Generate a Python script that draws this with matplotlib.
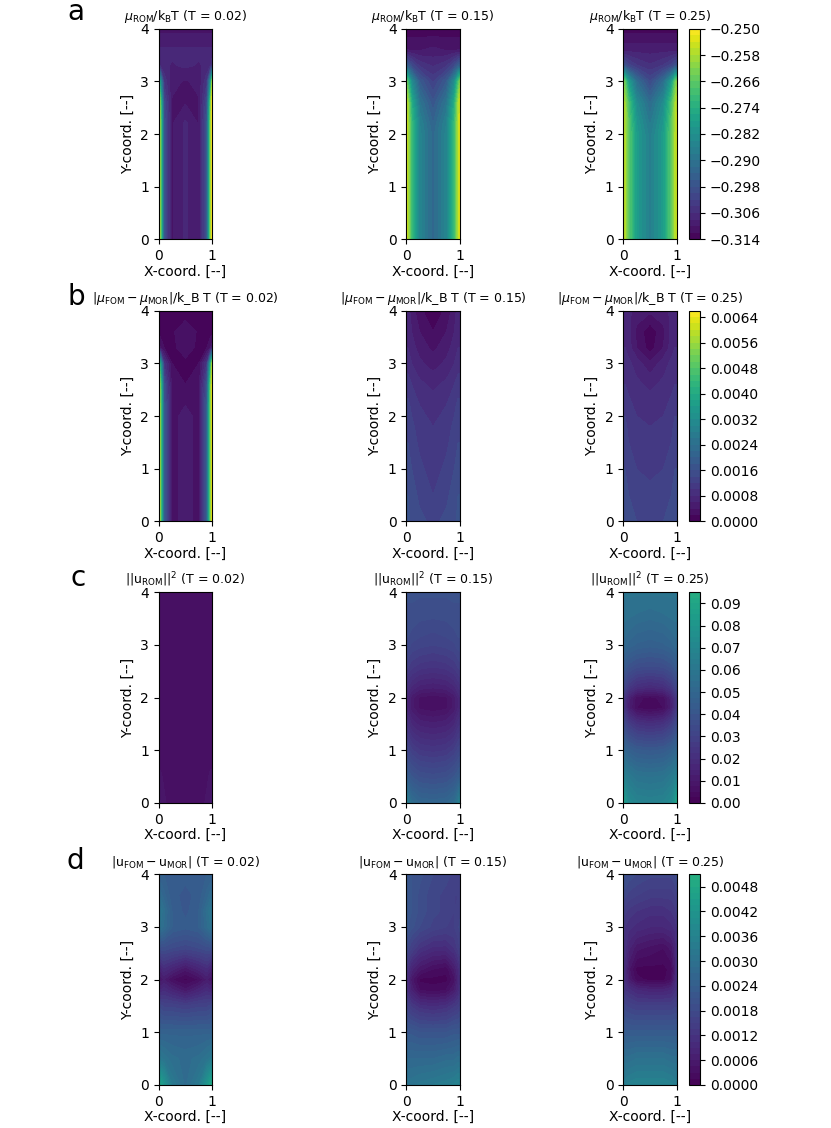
import numpy as np
import matplotlib
matplotlib.use('Agg')
import matplotlib.pyplot as plt
from matplotlib.ticker import FuncFormatter

# ---------------- data ----------------
x_coord = [0.0, 0.03, 0.1, 0.25, 0.5, 0.75, 0.9, 0.97, 1.0]
y_coord = [0.0, 0.5, 1.0, 1.5, 1.8, 2.0, 2.2, 2.6, 3.0, 3.3, 3.6, 4.0]
temps = ['0.02', '0.15', '0.25']

# row a: mu_ROM / k_B T
mu_rom_T002 = [
    [-0.2500, -0.2628, -0.2980, -0.3102, -0.3076, -0.3102, -0.2980, -0.2628, -0.2500],
    [-0.2500, -0.2628, -0.2980, -0.3102, -0.3076, -0.3102, -0.2980, -0.2628, -0.2500],
    [-0.2500, -0.2628, -0.2980, -0.3102, -0.3076, -0.3102, -0.2980, -0.2628, -0.2500],
    [-0.2500, -0.2628, -0.2980, -0.3102, -0.3076, -0.3102, -0.2980, -0.2628, -0.2500],
    [-0.2500, -0.2628, -0.2980, -0.3102, -0.3076, -0.3102, -0.2980, -0.2628, -0.2500],
    [-0.2500, -0.2628, -0.2980, -0.3102, -0.3076, -0.3102, -0.2980, -0.2628, -0.2500],
    [-0.2500, -0.2628, -0.2980, -0.3102, -0.3076, -0.3102, -0.2980, -0.2628, -0.2500],
    [-0.2500, -0.2660, -0.3000, -0.3102, -0.3102, -0.3102, -0.3000, -0.2660, -0.2500],
    [-0.2596, -0.2820, -0.3044, -0.3095, -0.3102, -0.3095, -0.3044, -0.2820, -0.2596],
    [-0.3044, -0.3063, -0.3076, -0.3082, -0.3076, -0.3082, -0.3076, -0.3063, -0.3044],
    [-0.3076, -0.3076, -0.3076, -0.3076, -0.3076, -0.3076, -0.3076, -0.3076, -0.3076],
    [-0.3108, -0.3108, -0.3108, -0.3108, -0.3108, -0.3108, -0.3108, -0.3108, -0.3108],
]
mu_rom_T015 = [
    [-0.2532, -0.2577, -0.2705, -0.2852, -0.2929, -0.2852, -0.2705, -0.2577, -0.2532],
    [-0.2532, -0.2577, -0.2705, -0.2852, -0.2929, -0.2852, -0.2705, -0.2577, -0.2532],
    [-0.2532, -0.2577, -0.2705, -0.2852, -0.2929, -0.2852, -0.2705, -0.2577, -0.2532],
    [-0.2532, -0.2577, -0.2705, -0.2852, -0.2929, -0.2852, -0.2705, -0.2577, -0.2532],
    [-0.2532, -0.2577, -0.2705, -0.2852, -0.2929, -0.2852, -0.2705, -0.2577, -0.2532],
    [-0.2532, -0.2577, -0.2705, -0.2852, -0.2929, -0.2852, -0.2705, -0.2577, -0.2532],
    [-0.2535, -0.2580, -0.2710, -0.2860, -0.2940, -0.2860, -0.2710, -0.2580, -0.2535],
    [-0.2545, -0.2596, -0.2743, -0.2897, -0.2974, -0.2897, -0.2743, -0.2596, -0.2545],
    [-0.2628, -0.2692, -0.2833, -0.2961, -0.3025, -0.2961, -0.2833, -0.2692, -0.2628],
    [-0.2948, -0.2961, -0.3000, -0.3044, -0.3063, -0.3044, -0.3000, -0.2961, -0.2948],
    [-0.3102, -0.3102, -0.3102, -0.3102, -0.3095, -0.3102, -0.3102, -0.3102, -0.3102],
    [-0.3134, -0.3134, -0.3134, -0.3134, -0.3134, -0.3134, -0.3134, -0.3134, -0.3134],
]
mu_rom_T025 = [
    [-0.2551, -0.2577, -0.2660, -0.2788, -0.2871, -0.2788, -0.2660, -0.2577, -0.2551],
    [-0.2551, -0.2577, -0.2660, -0.2788, -0.2871, -0.2788, -0.2660, -0.2577, -0.2551],
    [-0.2551, -0.2577, -0.2660, -0.2788, -0.2871, -0.2788, -0.2660, -0.2577, -0.2551],
    [-0.2551, -0.2577, -0.2660, -0.2788, -0.2871, -0.2788, -0.2660, -0.2577, -0.2551],
    [-0.2551, -0.2577, -0.2660, -0.2788, -0.2871, -0.2788, -0.2660, -0.2577, -0.2551],
    [-0.2551, -0.2577, -0.2660, -0.2788, -0.2871, -0.2788, -0.2660, -0.2577, -0.2551],
    [-0.2555, -0.2582, -0.2668, -0.2800, -0.2885, -0.2800, -0.2668, -0.2582, -0.2555],
    [-0.2564, -0.2596, -0.2692, -0.2833, -0.2922, -0.2833, -0.2692, -0.2596, -0.2564],
    [-0.2615, -0.2660, -0.2788, -0.2916, -0.3000, -0.2916, -0.2788, -0.2660, -0.2615],
    [-0.2980, -0.2986, -0.3012, -0.3038, -0.3057, -0.3038, -0.3012, -0.2986, -0.2980],
    [-0.3089, -0.3089, -0.3089, -0.3089, -0.3089, -0.3089, -0.3089, -0.3089, -0.3089],
    [-0.3127, -0.3127, -0.3127, -0.3127, -0.3127, -0.3127, -0.3127, -0.3127, -0.3127],
]

# row b: |mu_FOM - mu_MOR| / k_B T   (values in units of 1e-4)
mu_err_T002 = [
    [64, 52, 18, 3, 5, 3, 18, 52, 64],
    [64, 52, 18, 3, 5, 3, 18, 52, 64],
    [64, 52, 18, 3, 5, 3, 18, 52, 64],
    [64, 52, 18, 3, 5, 3, 18, 52, 64],
    [64, 52, 18, 3, 5, 3, 18, 52, 64],
    [64, 52, 18, 3, 5, 3, 18, 52, 64],
    [64, 52, 18, 3, 4, 3, 18, 52, 64],
    [63, 50, 16, 3, 2, 3, 16, 50, 63],
    [58, 38, 10, 2, 1, 2, 10, 38, 58],
    [5, 4, 2, 1, 4, 1, 2, 4, 5],
    [1, 1, 1, 1.5, 4, 1.5, 1, 1, 1],
    [0.3, 0.3, 0.3, 0.3, 0.3, 0.3, 0.3, 0.3, 0.3],
]
mu_err_T015 = [
    [16.5, 16.5, 15.5, 14.5, 13.5, 14.5, 15.5, 16.5, 16.5],
    [16, 16, 15, 13.5, 12, 13.5, 15, 16, 16],
    [15, 15, 14, 12.5, 11, 12.5, 14, 15, 15],
    [14, 14, 13, 11.5, 10, 11.5, 13, 14, 14],
    [13.5, 13.5, 12.5, 11, 10, 11, 12.5, 13.5, 13.5],
    [13, 13, 12, 10.5, 9.5, 10.5, 12, 13, 13],
    [12.5, 12.5, 11.5, 10, 9, 10, 11.5, 12.5, 12.5],
    [11, 11, 10, 8.5, 7.5, 8.5, 10, 11, 11],
    [9, 9, 8, 6.5, 5, 6.5, 8, 9, 9],
    [8, 8, 7, 5, 3.5, 5, 7, 8, 8],
    [7, 7, 6, 4, 2, 4, 6, 7, 7],
    [7, 7, 5, 2.5, 0.5, 2.5, 5, 7, 7],
]
mu_err_T025 = [
    [15.5, 15.5, 14.5, 14, 13.5, 14, 14.5, 15.5, 15.5],
    [15, 15, 14, 13, 12.5, 13, 14, 15, 15],
    [14, 14, 13, 12, 11.5, 12, 13, 14, 14],
    [13, 13, 12, 11, 10.5, 11, 12, 13, 13],
    [12.5, 12.5, 11.5, 10.5, 10, 10.5, 11.5, 12.5, 12.5],
    [12, 12, 11, 10, 9.5, 10, 11, 12, 12],
    [11.5, 11.5, 10.5, 9.5, 9, 9.5, 10.5, 11.5, 11.5],
    [10, 10, 9.5, 8.5, 7.5, 8.5, 9.5, 10, 10],
    [9, 9, 8.5, 7, 4.5, 7, 8.5, 9, 9],
    [8, 8, 7, 4, 1, 4, 7, 8, 8],
    [7.5, 7.5, 6.5, 3.5, 0.5, 3.5, 6.5, 7.5, 7.5],
    [7, 7, 6.5, 5, 4.5, 5, 6.5, 7, 7],
]

# row c: ||u_ROM||^2
u2_rom_T002 = [
    [0.012, 0.010, 0.008, 0.006, 0.005, 0.006, 0.008, 0.010, 0.012],
    [0.008, 0.008, 0.007, 0.006, 0.006, 0.006, 0.007, 0.008, 0.008],
    [0.006, 0.006, 0.006, 0.006, 0.006, 0.006, 0.006, 0.006, 0.006],
    [0.006, 0.006, 0.006, 0.007, 0.007, 0.007, 0.006, 0.006, 0.006],
    [0.006, 0.006, 0.006, 0.007, 0.007, 0.007, 0.006, 0.006, 0.006],
    [0.006, 0.006, 0.006, 0.007, 0.007, 0.007, 0.006, 0.006, 0.006],
    [0.006, 0.006, 0.006, 0.007, 0.007, 0.007, 0.006, 0.006, 0.006],
    [0.006, 0.006, 0.006, 0.007, 0.007, 0.007, 0.006, 0.006, 0.006],
    [0.006, 0.006, 0.006, 0.006, 0.006, 0.006, 0.006, 0.006, 0.006],
    [0.006, 0.006, 0.006, 0.006, 0.006, 0.006, 0.006, 0.006, 0.006],
    [0.006, 0.006, 0.006, 0.006, 0.006, 0.006, 0.006, 0.006, 0.006],
    [0.005, 0.005, 0.005, 0.005, 0.005, 0.005, 0.005, 0.005, 0.005],
]
u2_rom_T015 = [
    [0.068, 0.062, 0.054, 0.050, 0.049, 0.050, 0.054, 0.062, 0.068],
    [0.044, 0.043, 0.040, 0.037, 0.036, 0.037, 0.040, 0.043, 0.044],
    [0.032, 0.031, 0.028, 0.025, 0.024, 0.025, 0.028, 0.031, 0.032],
    [0.022, 0.021, 0.017, 0.014, 0.013, 0.014, 0.017, 0.021, 0.022],
    [0.017, 0.015, 0.011, 0.007, 0.006, 0.007, 0.011, 0.015, 0.017],
    [0.017, 0.015, 0.011, 0.007, 0.006, 0.007, 0.011, 0.015, 0.017],
    [0.021, 0.020, 0.017, 0.014, 0.013, 0.014, 0.017, 0.020, 0.021],
    [0.029, 0.028, 0.026, 0.024, 0.023, 0.024, 0.026, 0.028, 0.029],
    [0.034, 0.034, 0.032, 0.031, 0.030, 0.031, 0.032, 0.034, 0.034],
    [0.036, 0.036, 0.035, 0.034, 0.033, 0.034, 0.035, 0.036, 0.036],
    [0.037, 0.037, 0.037, 0.036, 0.036, 0.036, 0.037, 0.037, 0.037],
    [0.038, 0.038, 0.038, 0.038, 0.038, 0.038, 0.038, 0.038, 0.038],
]
u2_rom_T025 = [
    [0.093, 0.082, 0.072, 0.068, 0.067, 0.068, 0.072, 0.082, 0.093],
    [0.066, 0.065, 0.062, 0.058, 0.057, 0.058, 0.062, 0.065, 0.066],
    [0.050, 0.049, 0.046, 0.043, 0.042, 0.043, 0.046, 0.049, 0.050],
    [0.034, 0.032, 0.027, 0.022, 0.020, 0.022, 0.027, 0.032, 0.034],
    [0.026, 0.022, 0.013, 0.005, 0.003, 0.005, 0.013, 0.022, 0.026],
    [0.026, 0.022, 0.014, 0.006, 0.004, 0.006, 0.014, 0.022, 0.026],
    [0.032, 0.030, 0.025, 0.020, 0.018, 0.020, 0.025, 0.030, 0.032],
    [0.043, 0.042, 0.039, 0.036, 0.035, 0.036, 0.039, 0.042, 0.043],
    [0.051, 0.051, 0.049, 0.047, 0.046, 0.047, 0.049, 0.051, 0.051],
    [0.054, 0.054, 0.053, 0.051, 0.050, 0.051, 0.053, 0.054, 0.054],
    [0.056, 0.056, 0.056, 0.055, 0.054, 0.055, 0.056, 0.056, 0.056],
    [0.058, 0.058, 0.058, 0.058, 0.058, 0.058, 0.058, 0.058, 0.058],
]

# row d: |u_FOM - u_MOR|   (values in units of 1e-4)
u_err_T002 = [
    [48, 46, 42, 33, 28, 33, 42, 47, 49],
    [33, 32, 31, 29, 28, 29, 31, 32, 33],
    [25, 25, 25, 25, 25, 25, 25, 25, 25],
    [18, 17, 16, 16, 15, 16, 16, 17, 18],
    [7, 9, 10, 8, 5, 8, 10, 9, 7],
    [3, 5, 6, 3, 1, 3, 6, 5, 2],
    [6, 8, 10, 8, 5, 8, 10, 8, 5],
    [18, 19, 19, 18, 17, 18, 19, 19, 18],
    [28, 30, 28, 24, 23, 24, 28, 30, 28],
    [30, 31, 29, 24, 22, 24, 29, 31, 30],
    [27, 28, 26, 23, 22, 23, 26, 28, 27],
    [24, 24, 24, 23, 23, 23, 24, 24, 24],
]
u_err_T015 = [
    [31, 31, 31, 32, 33, 34, 35, 36, 36],
    [27, 27, 27, 27, 27, 28, 28, 29, 29],
    [22, 22, 22, 21, 21, 21, 22, 22, 22],
    [16, 15, 13, 11, 10, 11, 13, 14, 15],
    [12, 10, 7, 3, 2, 3, 6, 9, 11],
    [11, 9, 5, 1, 1, 1, 4, 8, 10],
    [13, 11, 8, 5, 3, 2, 6, 9, 11],
    [18, 17, 15, 12, 10, 10, 12, 14, 15],
    [21, 21, 20, 18, 16, 15, 15, 16, 17],
    [22, 22, 21, 19, 17, 16, 15, 16, 16],
    [22, 22, 21, 19, 17, 16, 15, 15, 15],
    [22, 22, 21, 20, 18, 17, 16, 16, 16],
]
u_err_T025 = [
    [34, 34, 35, 36, 36, 36, 35, 34, 34],
    [29, 29, 29, 30, 30, 30, 29, 29, 29],
    [23, 23, 23, 23, 23, 23, 23, 23, 23],
    [17, 17, 16, 15, 15, 15, 15, 16, 16],
    [13, 12, 11, 9, 8, 8, 9, 11, 12],
    [12, 10, 6, 2, 1, 1, 3, 8, 11],
    [12, 10, 5, 1, 1, 1, 2, 7, 11],
    [12, 11, 8, 5, 4, 3, 5, 8, 11],
    [13, 12, 11, 10, 9, 9, 10, 11, 12],
    [15, 14, 13, 12, 11, 11, 12, 13, 14],
    [17, 17, 16, 15, 14, 14, 14, 15, 16],
    [20, 20, 19, 18, 17, 17, 17, 18, 19],
]

cbar_ticks_a = [-0.314, -0.306, -0.298, -0.290, -0.282, -0.274, -0.266, -0.258, -0.250]
cbar_ticks_b = [0.0, 0.0008, 0.0016, 0.0024, 0.0032, 0.0040, 0.0048, 0.0056, 0.0064]
cbar_ticks_c = [0.00, 0.01, 0.02, 0.03, 0.04, 0.05, 0.06, 0.07, 0.08, 0.09]
cbar_ticks_d = [0.0, 0.0006, 0.0012, 0.0018, 0.0024, 0.0030, 0.0036, 0.0042, 0.0048]

titles_a = [r'$\mu_{\rm ROM}/\rm k_BT$ (T = %s)' % t for t in temps]
titles_b = [r'$|\mu_{\rm FOM}-\mu_{\rm MOR}|$/k_B T (T = %s)' % t for t in temps]
titles_c = [r'$||\rm u_{ROM}||^2$ (T = %s)' % t for t in temps]
titles_d = [r'$|\rm u_{FOM}-u_{MOR}|$ (T = %s)' % t for t in temps]

rows = [
    dict(fields=[np.array(mu_rom_T002), np.array(mu_rom_T015), np.array(mu_rom_T025)],
         titles=titles_a, lo=-0.314, hi=-0.250, nlev=33, vmin=-0.314, vmax=-0.250,
         ticks=cbar_ticks_a, fmt='{:.3f}', letter='a'),
    dict(fields=[np.array(mu_err_T002) * 1e-4, np.array(mu_err_T015) * 1e-4, np.array(mu_err_T025) * 1e-4],
         titles=titles_b, lo=0.0, hi=0.0066, nlev=34, vmin=0.0, vmax=0.0066,
         ticks=cbar_ticks_b, fmt='{:.4f}', letter='b'),
    dict(fields=[np.array(u2_rom_T002), np.array(u2_rom_T015), np.array(u2_rom_T025)],
         titles=titles_c, lo=0.0, hi=0.095, nlev=39, vmin=0.0, vmax=0.153,
         ticks=cbar_ticks_c, fmt='{:.2f}', letter='c'),
    dict(fields=[np.array(u_err_T002) * 1e-4, np.array(u_err_T015) * 1e-4, np.array(u_err_T025) * 1e-4],
         titles=titles_d, lo=0.0, hi=0.0051, nlev=35, vmin=0.0, vmax=0.0081,
         ticks=cbar_ticks_d, fmt='{:.4f}', letter='d'),
]

# ---------------- layout (pixels) ----------------
W, H = 831, 1128
fig = plt.figure(figsize=(W / 100, H / 100), dpi=100)
col_left = [158.7, 406.3, 623.3]
ax_w = 53.4
row_top = [28.7, 310.7, 592.3, 874.3]
ax_h = 210.6
cbar_left, cbar_w = 689.3, 10.7
letter_base = [20, 305, 586, 869]
letter_x = [67, 67, 70, 67]

X, Y = np.meshgrid(np.array(x_coord), np.array(y_coord))


def make_fmt(fmt):
    return FuncFormatter(lambda v, p: fmt.format(v).replace('-', '\u2212'))


for r, row in enumerate(rows):
    levels = np.linspace(row['lo'], row['hi'], row['nlev'])
    bottom = 1 - (row_top[r] + ax_h) / H
    cs = None
    for c in range(3):
        ax = fig.add_axes([col_left[c] / W, bottom, ax_w / W, ax_h / H])
        cs = ax.contourf(X, Y, row['fields'][c], levels=levels, cmap='viridis',
                         vmin=row['vmin'], vmax=row['vmax'], extend='neither')
        ax.set_xlim(0, 1)
        ax.set_ylim(0, 4)
        ax.set_xticks([0, 1])
        ax.set_yticks([0, 1, 2, 3, 4])
        ax.tick_params(labelsize=10)
        ax.set_xlabel('X-coord. [--]', fontsize=10, labelpad=1)
        ax.set_ylabel('Y-coord. [--]', fontsize=10)
        ax.set_title(row['titles'][c], fontsize=9)
    cax = fig.add_axes([cbar_left / W, bottom, cbar_w / W, ax_h / H])
    cb = fig.colorbar(cs, cax=cax, ticks=row['ticks'])
    cb.ax.yaxis.set_major_formatter(make_fmt(row['fmt']))
    cb.ax.tick_params(labelsize=10)
    fig.text(letter_x[r] / W, 1 - letter_base[r] / H, row['letter'], fontsize=20,
             va='baseline', ha='left')

fig.savefig('out.png', dpi=100)
